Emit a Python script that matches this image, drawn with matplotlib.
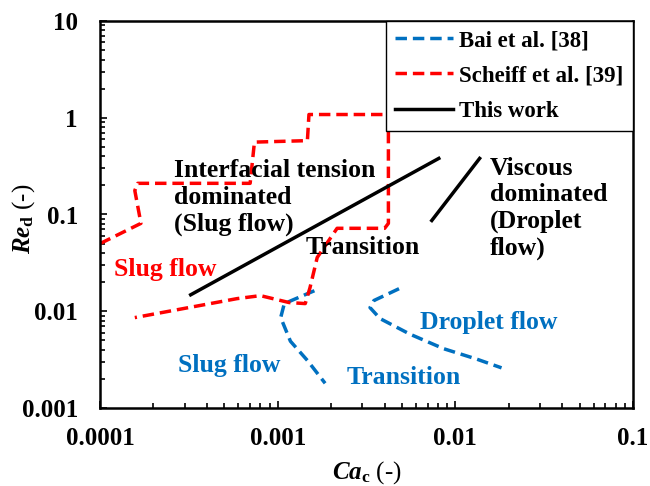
import matplotlib
matplotlib.use("Agg")
import matplotlib.pyplot as plt
from matplotlib.ticker import LogLocator, NullFormatter, FixedFormatter, FixedLocator

# Data (Ca_c, Re_d)
scheiff_ca = [1.0e-4, 1.7e-4, 1.57e-4, 1.63e-4, 7.0e-4, 7.4e-4, 1.47e-3, 1.5e-3,
              4.2e-3, 4.2e-3, 4.0e-3, 2.16e-3, 1.67e-3, 1.52e-3, 1.43e-3,
              1.16e-3, 8.0e-4, 5.9e-4, 1.57e-4]
scheiff_re = [0.05, 0.081, 0.177, 0.21, 0.21, 0.56, 0.58, 1.08,
              1.08, 0.081, 0.072, 0.072, 0.036, 0.0175, 0.012,
              0.0123, 0.0145, 0.0135, 0.0086]

bai1_ca = [1.61e-3, 1.09e-3, 1.04e-3, 1.18e-3, 1.47e-3, 1.85e-3]
bai1_re = [0.0163, 0.012, 0.0086, 0.0049, 0.0031, 0.0018]

bai2_ca = [4.82e-3, 3.48e-3, 3.31e-3, 3.77e-3, 5.55e-3, 8.6e-3, 1.32e-2, 1.82e-2]
bai2_re = [0.0171, 0.0129, 0.0109, 0.0084, 0.0058, 0.0041, 0.0032, 0.0026]

work1_ca = [3.24e-4, 8.07e-3]
work1_re = [0.0148, 0.38]
work2_ca = [7.37e-3, 1.37e-2]
work2_re = [0.0867, 0.38]

x_ticks = [1e-4, 1e-3, 1e-2, 1e-1]
x_labels = ["0.0001", "0.001", "0.01", "0.1"]
y_ticks = [1e-3, 1e-2, 1e-1, 1, 10]
y_labels = ["0.001", "0.01", "0.1", "1", "10"]

red = "#FF0000"
blue = "#0070C0"

plt.rcParams["font.family"] = ["Liberation Serif", "DejaVu Serif"]
plt.rcParams["font.weight"] = "bold"
plt.rcParams["mathtext.fontset"] = "custom"
plt.rcParams["mathtext.rm"] = "Liberation Serif:bold"
plt.rcParams["mathtext.it"] = "Liberation Serif:italic:bold"
plt.rcParams["mathtext.bf"] = "Liberation Serif:bold"

fig = plt.figure(figsize=(6.5, 4.86), dpi=100)
ax = fig.add_axes([100 / 650, 78 / 486, 533 / 650, 387 / 486])

dash = (3.3, 1.7)
lw = 2.5
ax.plot(bai1_ca, bai1_re, color=blue, lw=lw, dashes=dash, label="Bai et al. [38]")
ax.plot(bai2_ca, bai2_re, color=blue, lw=lw, dashes=dash)
ax.plot(scheiff_ca, scheiff_re, color=red, lw=lw, dashes=dash, label="Scheiff et al. [39]")
ax.plot(work1_ca, work1_re, color="black", lw=lw, label="This work")
ax.plot(work2_ca, work2_re, color="black", lw=lw)

ax.set_xscale("log")
ax.set_yscale("log")
ax.set_xlim(1e-4, 1e-1)
ax.set_ylim(1e-3, 10)

ax.xaxis.set_major_locator(FixedLocator(x_ticks))
ax.xaxis.set_major_formatter(FixedFormatter(x_labels))
ax.yaxis.set_major_locator(FixedLocator(y_ticks))
ax.yaxis.set_major_formatter(FixedFormatter(y_labels))
ax.xaxis.set_minor_locator(LogLocator(base=10, subs=range(2, 10)))
ax.yaxis.set_minor_locator(LogLocator(base=10, subs=range(2, 10)))
ax.xaxis.set_minor_formatter(NullFormatter())
ax.yaxis.set_minor_formatter(NullFormatter())

ax.tick_params(which="both", direction="in", top=False, right=False, width=1.2)
ax.tick_params(which="major", length=5, labelsize=18)
ax.tick_params(axis="x", which="major", pad=14)
ax.tick_params(axis="y", which="major", pad=16)
ax.tick_params(which="minor", length=3.5)
for s in ax.spines.values():
    s.set_linewidth(1.8)

ax.set_xlabel(r"$Ca_{\mathrm{c}}$ (-)", fontsize=18, labelpad=6)
ax.set_ylabel(r"$Re_{\mathrm{d}}$ (-)", fontsize=18)
ax.yaxis.set_label_coords(-0.118, 0.49)

leg = ax.legend(loc="upper right", bbox_to_anchor=(1.0, 1.0), borderaxespad=0,
                fontsize=16.5, fancybox=False, edgecolor="black", framealpha=1,
                handlelength=2.5, labelspacing=0.62, borderpad=0.4, handletextpad=0.3)
leg.get_frame().set_linewidth(1.0)

# Region labels
fs = 18.5
ax.text(2.6e-4, 0.15, "Interfacial tension\ndominated\n(Slug flow)", fontsize=fs,
        va="center", ha="left", linespacing=1.2)
ax.text(1.43e-3, 0.0455, "Transition", fontsize=fs, va="center")
ax.text(1.56e-2, 0.115, "Viscous\ndominated\n(Droplet\nflow)", fontsize=fs,
        va="center", ha="left", linespacing=1.2)
ax.text(1.2e-4, 0.027, "Slug flow", fontsize=fs, color=red, va="center")
ax.text(2.74e-4, 0.00272, "Slug flow", fontsize=fs, color=blue, va="center")
ax.text(2.46e-3, 0.00205, "Transition", fontsize=fs, color=blue, va="center")
ax.text(6.3e-3, 0.0076, "Droplet flow", fontsize=fs, color=blue, va="center")

fig.savefig("out.png", dpi=100)
